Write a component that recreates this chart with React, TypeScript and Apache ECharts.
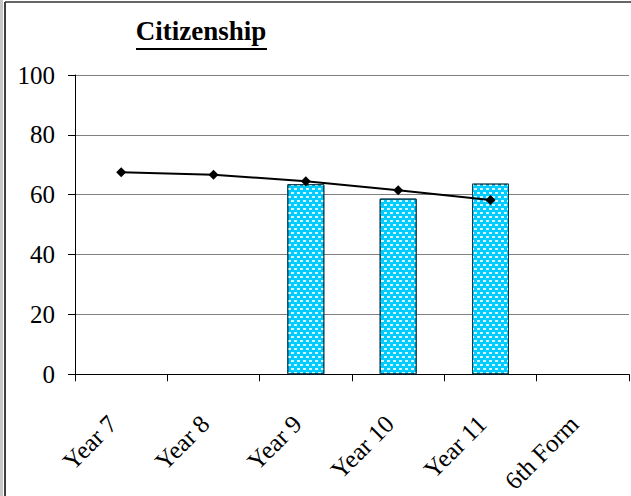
import React, { useEffect, useRef } from "react";
import * as echarts from "echarts";

const categories = ["Year 7", "Year 8", "Year 9", "Year 10", "Year 11", "6th Form"];
const barValues: (number | null)[] = [null, null, 63.5, 58.7, 63.7, null];
const lineValues: (number | null)[] = [67.5, 66.7, 64.5, 61.5, 58.2, null];
const yTicks = { min: 0, max: 100, interval: 20 };
const titleText = "Citizenship";

const FONT = "Liberation Serif";

export default function App() {
  const ref = useRef<HTMLDivElement>(null);
  useEffect(() => {
    if (!ref.current) return;
    const chart = echarts.init(ref.current, undefined, { renderer: "svg" });
    chart.setOption({
      animation: false,
      backgroundColor: "#ffffff",
      textStyle: { fontFamily: FONT },
      grid: { left: 75, right: 2, top: 75, bottom: 120, containLabel: false },
      xAxis: {
        type: "category",
        data: categories,
        boundaryGap: true,
        axisLine: { show: true, lineStyle: { color: "#000", width: 1 } },
        axisTick: { show: true, length: 7, inside: false, alignWithLabel: false, lineStyle: { color: "#000" } },
        axisLabel: {
          rotate: 45,
          margin: 37,
          padding: [0, 12, 0, 0],
          interval: 0,
          color: "#000",
          fontSize: 25,
          fontFamily: FONT,
        },
        splitLine: { show: false },
      },
      yAxis: {
        type: "value",
        min: yTicks.min,
        max: yTicks.max,
        interval: yTicks.interval,
        axisLine: { show: true, lineStyle: { color: "#000", width: 1 } },
        axisTick: { show: true, length: 7, lineStyle: { color: "#000" } },
        axisLabel: {
          margin: 20,
          color: "#000",
          fontSize: 25,
          fontFamily: FONT,
        },
        splitLine: { show: true, lineStyle: { color: "#808080", width: 1 } },
      },
      series: [
        {
          type: "bar",
          data: barValues,
          barWidth: 37,
          itemStyle: {
            color: "#00CCFF",
            borderColor: "#0a3a4a",
            borderWidth: 1,
            decal: {
              symbol: "rect",
              symbolSize: 1,
              color: "rgba(255,255,255,0.85)",
              dashArrayX: [[3, 3], [0, 3, 3, 0]],
              dashArrayY: [2, 2],
              rotation: 0,
            },
          },
          z: 2,
        },
        {
          type: "line",
          data: lineValues,
          symbol: "diamond",
          symbolSize: 10,
          lineStyle: { color: "#000", width: 2 },
          itemStyle: { color: "#000" },
          z: 3,
        },
      ],
      graphic: [
        { type: "rect", shape: { x: 0, y: 0, width: 3, height: 496 }, style: { fill: "#c8c8c8" } },
        { type: "line", shape: { x1: 5, y1: 2, x2: 5, y2: 496 }, style: { stroke: "#000", lineWidth: 1.5 } },
        { type: "line", shape: { x1: 5, y1: 2, x2: 631, y2: 2 }, style: { stroke: "#333", lineWidth: 1.5 } },
        {
          type: "text",
          x: 201,
          y: 31,
          style: {
            text: titleText,
            fontFamily: FONT,
            fontWeight: "bold",
            fontSize: 27,
            fill: "#000",
            textAlign: "center",
            textVerticalAlign: "middle",
          },
        },
        { type: "line", shape: { x1: 136, y1: 49, x2: 267, y2: 49 }, style: { stroke: "#000", lineWidth: 2 } },
      ],
    });
    return () => chart.dispose();
  }, []);
  return (
    <div
      ref={ref}
      style={{ position: "fixed", left: 0, top: 0, width: 631, height: 496 }}
    />
  );
}
